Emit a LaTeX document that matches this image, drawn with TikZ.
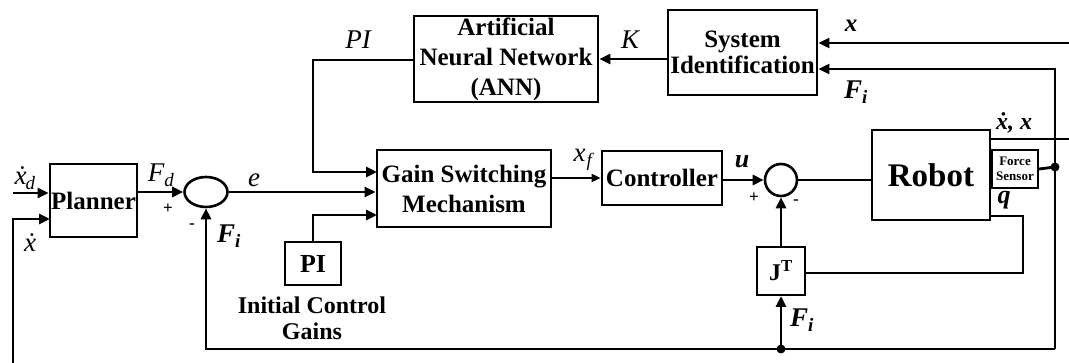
\documentclass[tikz,border=0pt]{standalone}
\usepackage{fontspec}
\setmainfont{Liberation Serif}
\usetikzlibrary{arrows.meta,shapes.geometric}
\tikzset{
  blk/.style={draw,line width=2.8pt,rectangle,inner sep=0pt,align=center,font=\fontsize{25}{28}\selectfont\bfseries},
  sblk/.style={draw,line width=2pt,rectangle,inner sep=0pt,align=center},
  ln/.style={line width=2.8pt},
  arr/.style={line width=2.8pt,-{Triangle[length=11pt,width=10pt]}},
  tarr/.style={line width=1.8pt,-{Triangle[length=9pt,width=8pt]}},
  lab/.style={inner sep=0pt,font=\fontsize{27}{28}\selectfont\itshape},
  blab/.style={inner sep=0pt,font=\fontsize{27}{28}\selectfont\bfseries\itshape},
  sgn/.style={inner sep=0pt,font=\fontsize{17}{18}\selectfont\bfseries},
  dot/.style={circle,fill,inner sep=0pt,minimum size=9pt}
}
\begin{document}
\begin{tikzpicture}[x=1pt,y=-1pt]
\useasboundingbox[fill=white] (0,0) rectangle (1069,363);
% blocks
\node[blk,minimum width=87pt,minimum height=73pt] (planner) at (93.5,200.5) {Planner};
\node[blk,minimum width=184pt,minimum height=86pt,font=\fontsize{25}{30}\selectfont\bfseries] (ann) at (506,59) {Artificial\\Neural Network\\(ANN)};
\node[blk,minimum width=149pt,minimum height=85pt,font=\fontsize{25}{26}\selectfont\bfseries] (sysid) at (742.5,52.5) {System\\Identification};
\node[blk,minimum width=174pt,minimum height=77pt,font=\fontsize{25}{30}\selectfont\bfseries] (gain) at (464,188.5) {Gain Switching\\Mechanism};
\node[blk,minimum width=120pt,minimum height=54pt] (ctrl) at (662,178) {Controller};
\node[sblk,minimum width=56pt,minimum height=43pt,font=\fontsize{26}{28}\selectfont\bfseries] (pibox) at (313,263.5) {PI};
\node[blk,minimum width=118pt,minimum height=90pt,font=\fontsize{33}{35}\selectfont\bfseries] (robot) at (931,175) {Robot};
\node[sblk,minimum width=46pt,minimum height=38pt,font=\fontsize{13}{15}\selectfont\bfseries] (force) at (1015,169) {Force\\Sensor};
\node[sblk,minimum width=48pt,minimum height=48pt,font=\fontsize{24}{26}\selectfont\bfseries] (jt) at (781,271) {J\textsuperscript{T}};
\node[draw,ellipse,line width=2.6pt,minimum width=43pt,minimum height=30pt,inner sep=0pt] (sum1) at (206,192) {};
\node[draw,circle,line width=2.6pt,minimum size=32pt,inner sep=0pt] (sum2) at (781,180) {};
% coordinates
\coordinate (xdin) at (13,193);
\coordinate (xbot) at (13,363);
\coordinate (pin2) at (50,219);
\coordinate (pic) at (313,60);
\coordinate (g1) at (377,172);
\coordinate (g3) at (377,215);
\coordinate (xr) at (1069,43);
\coordinate (rr) at (1069,139);
\coordinate (vt) at (1055,69);
\coordinate (ds) at (1055,167);
\coordinate (bR) at (1055,349);
\coordinate (bL) at (206,349);
\coordinate (bm) at (781,349);
\coordinate (q1) at (1023,216);
\coordinate (q2) at (1023,273);
% connectors
\draw[arr] (xdin) -- (planner.west |- xdin);
\draw[arr] (xbot) |- (pin2);
\draw[arr] (planner.east |- sum1) -- (sum1.west);
\draw[arr] (sum1.east) -- (gain.west |- sum1.east);
\draw[arr] (ann.west |- pic) -- (pic) |- (g1);
\draw[arr] (pibox.north) |- (g3);
\draw[tarr] (gain.east |- ctrl) -- (ctrl.west);
\draw[arr] (ctrl.east |- sum2) -- (sum2.west);
\draw[ln] (sum2.east) -- (robot.west |- sum2);
\draw[ln] (robot.east |- rr) -- (rr);
\draw[arr] (xr) -- (sysid.east |- xr);
\draw[arr] (bR) -- (vt) -- (sysid.east |- vt);
\draw[ln] (force.east) -- (ds);
\draw[arr] (bR) -- (bL) -- (sum1.south);
\draw[arr] (bm) -- (jt.south);
\draw[arr] (jt.north) -- (sum2.south);
\draw[ln] (robot.east |- q1) -- (q1) -- (q2) -- (jt.east |- q2);
\draw[arr] (sysid.west |- ann.east) -- (ann.east);
\node[dot] at (ds) {};
\node[dot] at (bm) {};
% labels
\node[lab] at (25,178) {\.x\textsubscript{\kern-1pt d}};
\node[lab] at (30,243) {\.x};
\node[lab] at (161,175) {F\textsubscript{d}};
\node[sgn] at (168,209) {+};
\node[sgn] at (192,226) {-};
\node[blab] at (229,236) {F\textsubscript{i}};
\node[lab] at (254,180) {e};
\node[lab] at (358,40) {PI};
\node[lab] at (630,40) {K};
\node[lab] at (583,160) {x\textsubscript{\kern1pt f}};
\node[blab,font=\fontsize{25}{26}\selectfont\bfseries\itshape] at (851,26) {x};
\node[blab] at (856,92) {F\textsubscript{i}};
\node[blab,font=\fontsize{26}{28}\selectfont\bfseries\itshape] at (742,162) {u};
\node[sgn] at (754,198) {+};
\node[sgn] at (796,202) {-};
\node[blab,font=\fontsize{24}{26}\selectfont\bfseries\itshape] at (1014,123) {\.x, x};
\node[blab,font=\fontsize{26}{28}\selectfont\bfseries\itshape] at (1004,200) {q};
\node[blab] at (802,320) {F\textsubscript{i}};
\node[inner sep=0pt,align=center,font=\fontsize{24}{26}\selectfont\bfseries] at (312,318) {Initial Control\\Gains};
\end{tikzpicture}
\end{document}
